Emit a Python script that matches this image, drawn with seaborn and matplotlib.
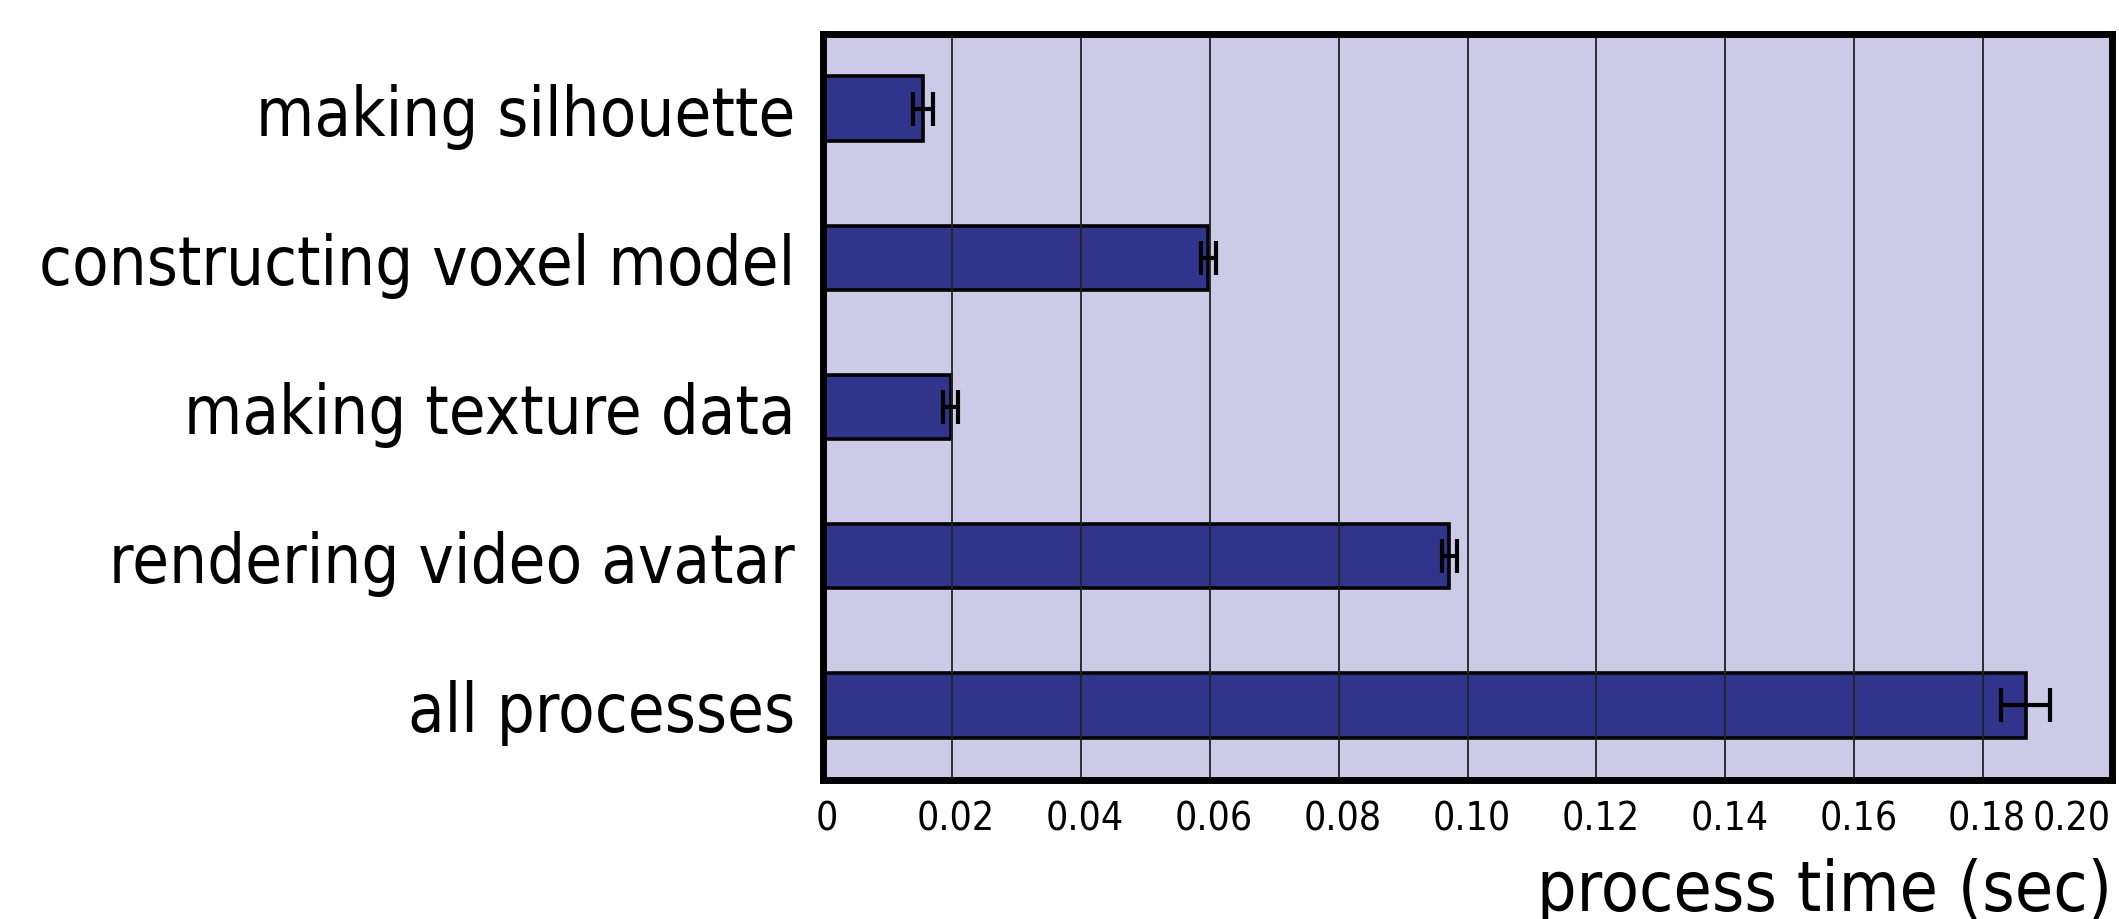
import numpy as np
import pandas as pd
import seaborn as sns
import matplotlib
matplotlib.use('Agg')
import matplotlib.pyplot as plt
from matplotlib.transforms import ScaledTranslation

# Dados
processos = ['making silhouette', 'constructing voxel model', 'making texture data',
             'rendering video avatar', 'all processes']
tempos = [0.0155, 0.0598, 0.0198, 0.0972, 0.1866]
erros = [0.0015, 0.0012, 0.0012, 0.0012, 0.0038]
xticks = [0, 0.02, 0.04, 0.06, 0.08, 0.10, 0.12, 0.14, 0.16, 0.18, 0.20]
xtick_labels = ['0', '0.02', '0.04', '0.06', '0.08', '0.10', '0.12', '0.14', '0.16', '0.18', '0.20']

df = pd.DataFrame({'processo': processos, 'tempo': tempos})

plt.rcParams['font.family'] = ['DejaVu Sans']
plt.rcParams['font.stretch'] = 'condensed'

fig = plt.figure(figsize=(21.19, 9.2), dpi=100)
ax = fig.add_axes([0.3884, 0.151, 0.9967 - 0.3884, 0.962 - 0.151])
ax.set_facecolor('#cccae6')

# Barras horizontais
sns.barplot(data=df, x='tempo', y='processo', orient='h', color='#30348b',
            saturation=1, edgecolor='black', linewidth=2.6, width=0.43,
            errorbar=None, ax=ax, zorder=2)

# Barras de erro
ax.errorbar(tempos, np.arange(len(processos)), xerr=erros, fmt='none',
            ecolor='black', elinewidth=3, capsize=12, capthick=3, zorder=4)

ax.set_xlim(0, 0.2)
ax.set_ylim(len(processos) - 0.5, -0.5)
ax.set_xticks(xticks)
ax.set_xticklabels(xtick_labels, fontsize=28)
ax.tick_params(axis='x', length=0, pad=14)
ax.tick_params(axis='y', length=0, pad=20, labelsize=48)

# Pequeno deslocamento dos rótulos do eixo x (como no original)
desloc = ScaledTranslation(4 / 100, 0, fig.dpi_scale_trans)
for lbl in ax.get_xticklabels():
    lbl.set_transform(lbl.get_transform() + desloc)
ultimo = ax.get_xticklabels()[-1]
ultimo.set_horizontalalignment('right')
ultimo.set_transform(ultimo.get_transform() + ScaledTranslation(-5 / 100, 0, fig.dpi_scale_trans))

# Grade vertical por cima das barras
ax.grid(axis='x', color='#222222', linewidth=1.3, zorder=3)
ax.set_axisbelow(False)
for gl in ax.get_xgridlines():
    gl.set_zorder(3)

for s in ax.spines.values():
    s.set_linewidth(5)
    s.set_color('black')
    s.set_zorder(5)

ax.set_ylabel('')
ax.set_xlabel('process time (sec)', fontsize=50, loc='right', labelpad=14)

fig.savefig('out.png', dpi=100)
